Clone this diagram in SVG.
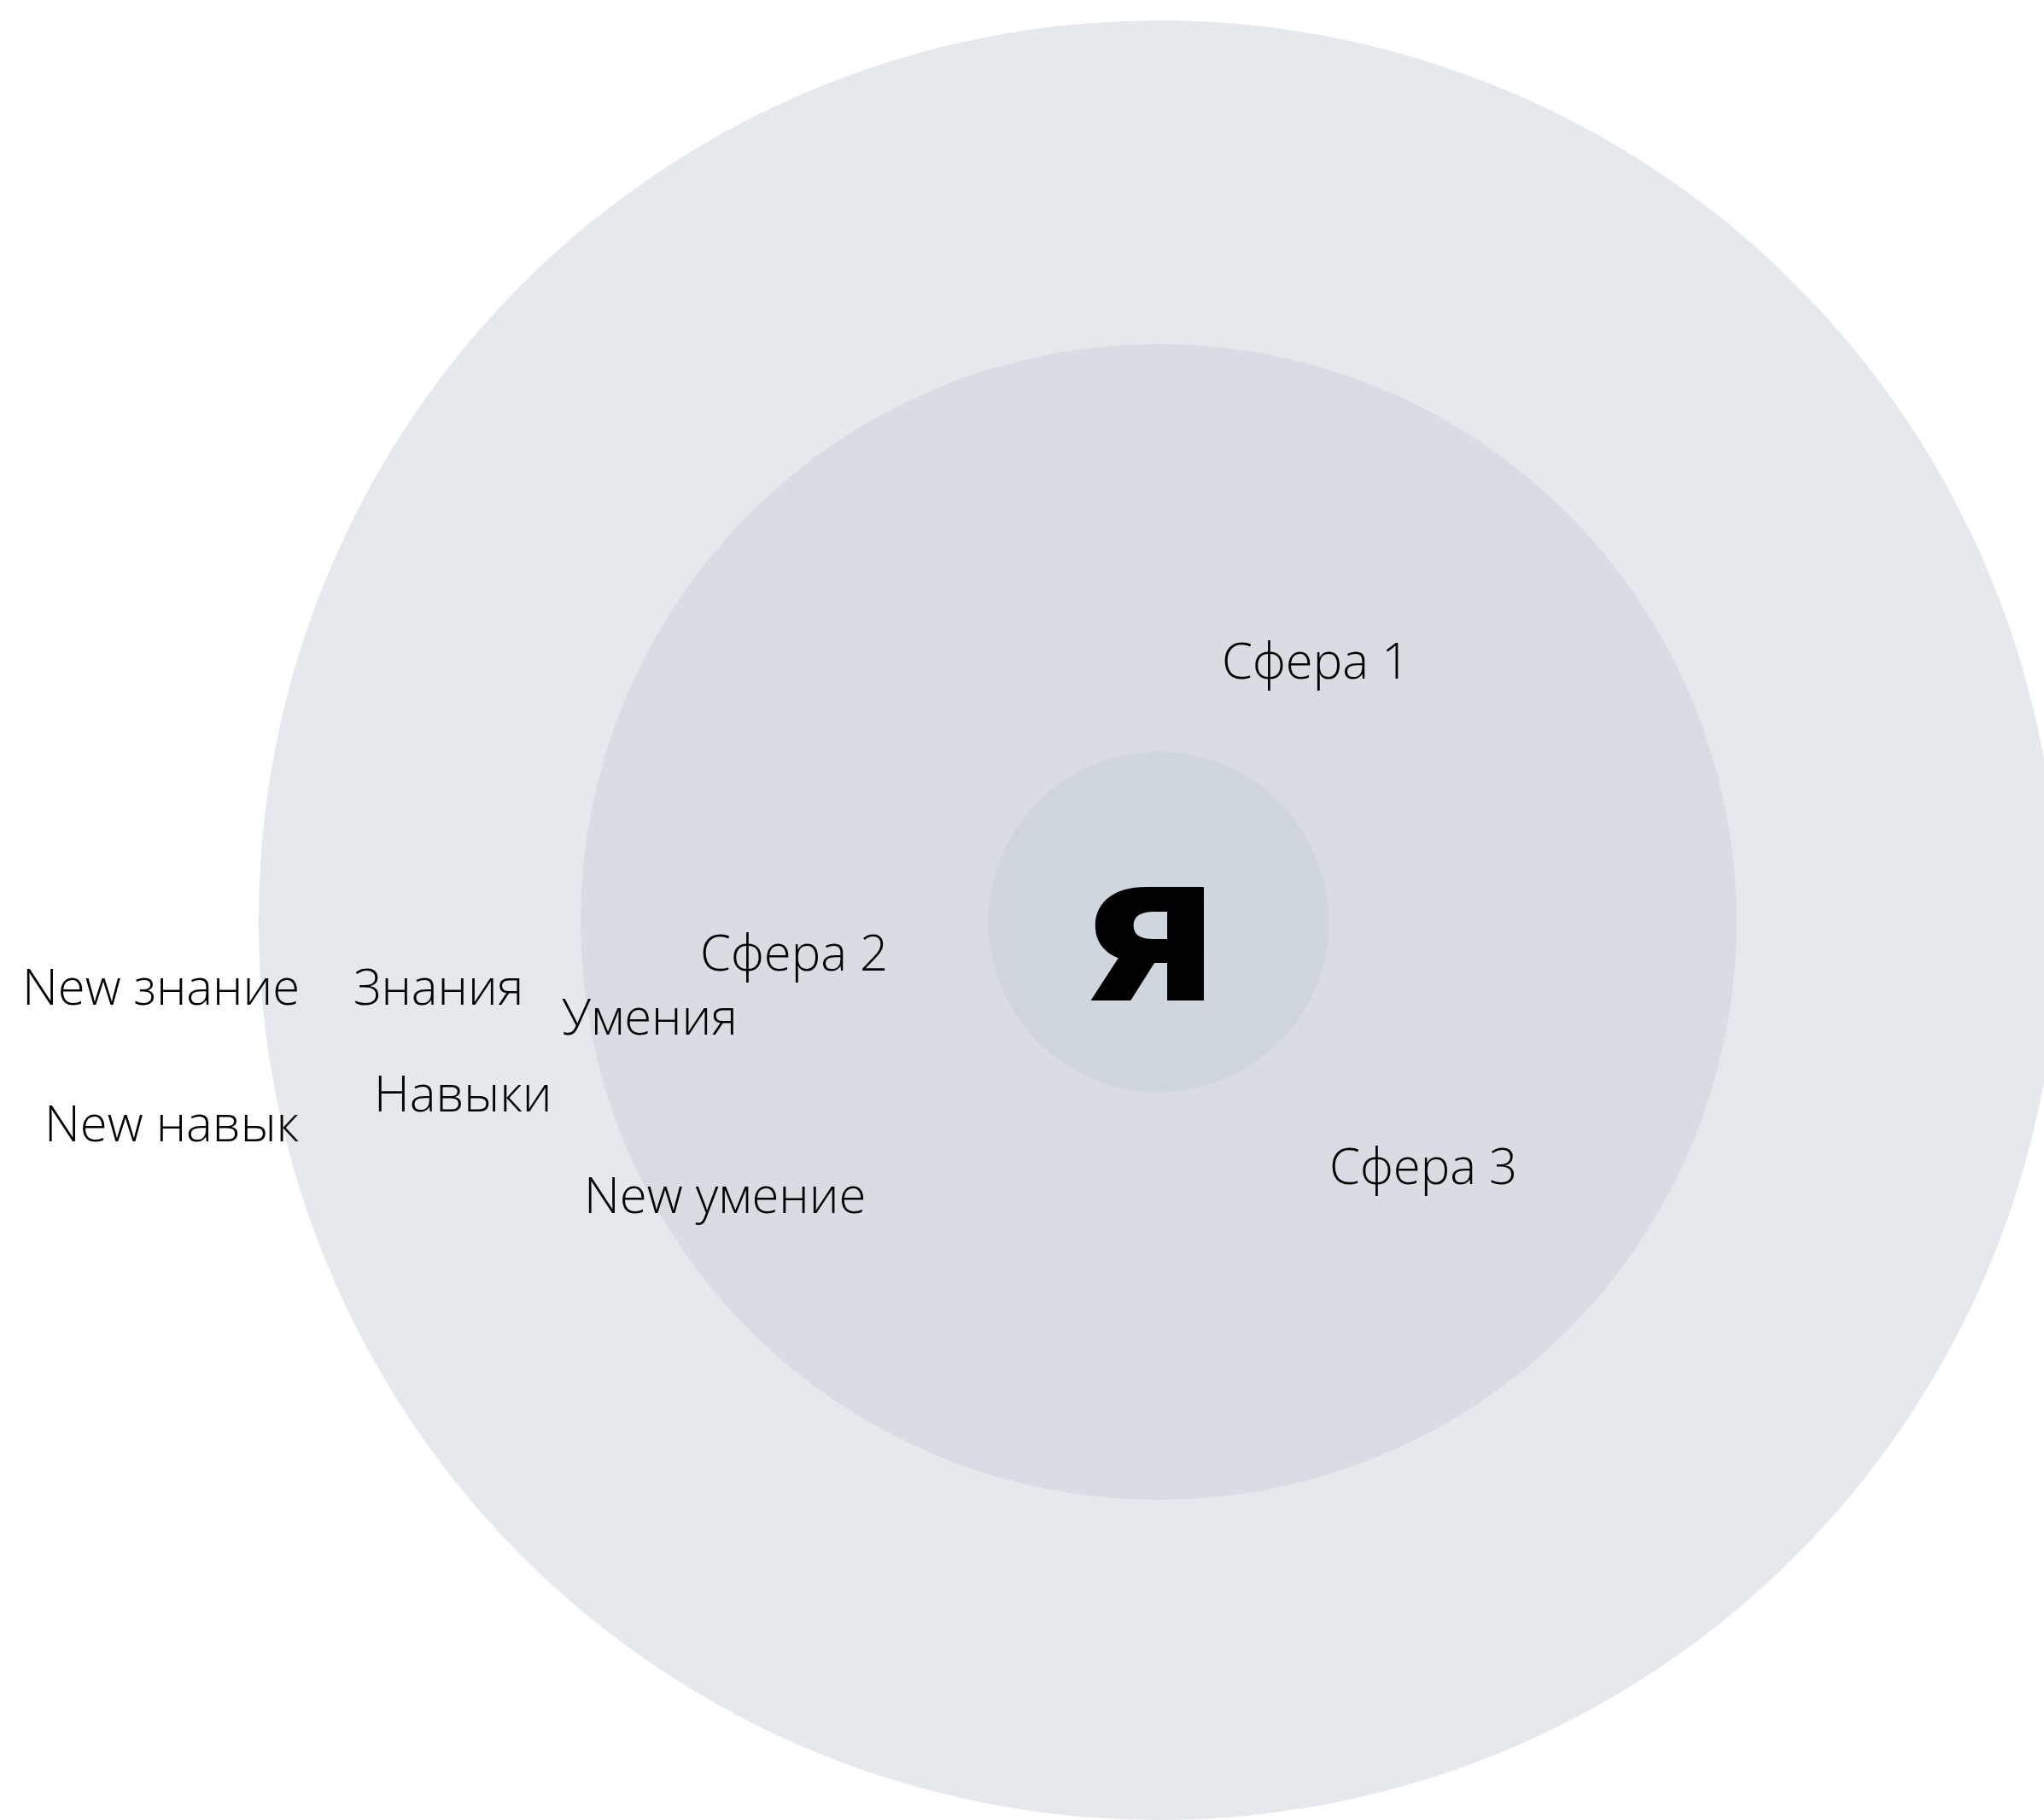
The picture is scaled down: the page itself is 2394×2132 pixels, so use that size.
<svg xmlns="http://www.w3.org/2000/svg" width="2394" height="2132" viewBox="0 0 2394 2132">
<style>
.lbl{font-family:"Open Sans","Liberation Sans",sans-serif;font-weight:300;font-size:58px;fill:#000}
.me{font-family:Inter,"Open Sans","Liberation Sans",sans-serif;font-weight:900;font-size:183px;fill:#000}
</style>
<rect width="2394" height="2132" fill="#ffffff"/>
<g id="outer"><circle cx="1357" cy="1078" r="1054" fill="#e5e8ec"/></g>
<g id="middle"><circle cx="1357" cy="1080" r="677" fill="#d9dde3"/></g>
<g id="inner"><circle cx="1357" cy="1080" r="199.5" fill="#d0d6de"/></g>
<g id="connectors"></g>
<g id="label-me"><text class="me" x="0" y="1172" text-anchor="middle" transform="translate(1347.5 0) scale(1.19 1)">Я</text></g>
<g id="sphere1"><text class="lbl" x="1431" y="795">Сфера 1</text></g>
<g id="sphere2"><text class="lbl" x="820" y="1137">Сфера 2</text></g>
<g id="sphere3"><text class="lbl" x="1557" y="1387">Сфера 3</text></g>
<g id="znaniya"><text class="lbl" x="414" y="1177">Знания</text></g>
<g id="umeniya"><text class="lbl" x="658" y="1212">Умения</text></g>
<g id="navyki"><text class="lbl" x="438" y="1302">Навыки</text></g>
<g id="new-znanie"><text class="lbl" x="26" y="1177">New знание</text></g>
<g id="new-navyk"><text class="lbl" x="52" y="1337">New навык</text></g>
<g id="new-umenie"><text class="lbl" x="684" y="1421">New умение</text></g>
</svg>
